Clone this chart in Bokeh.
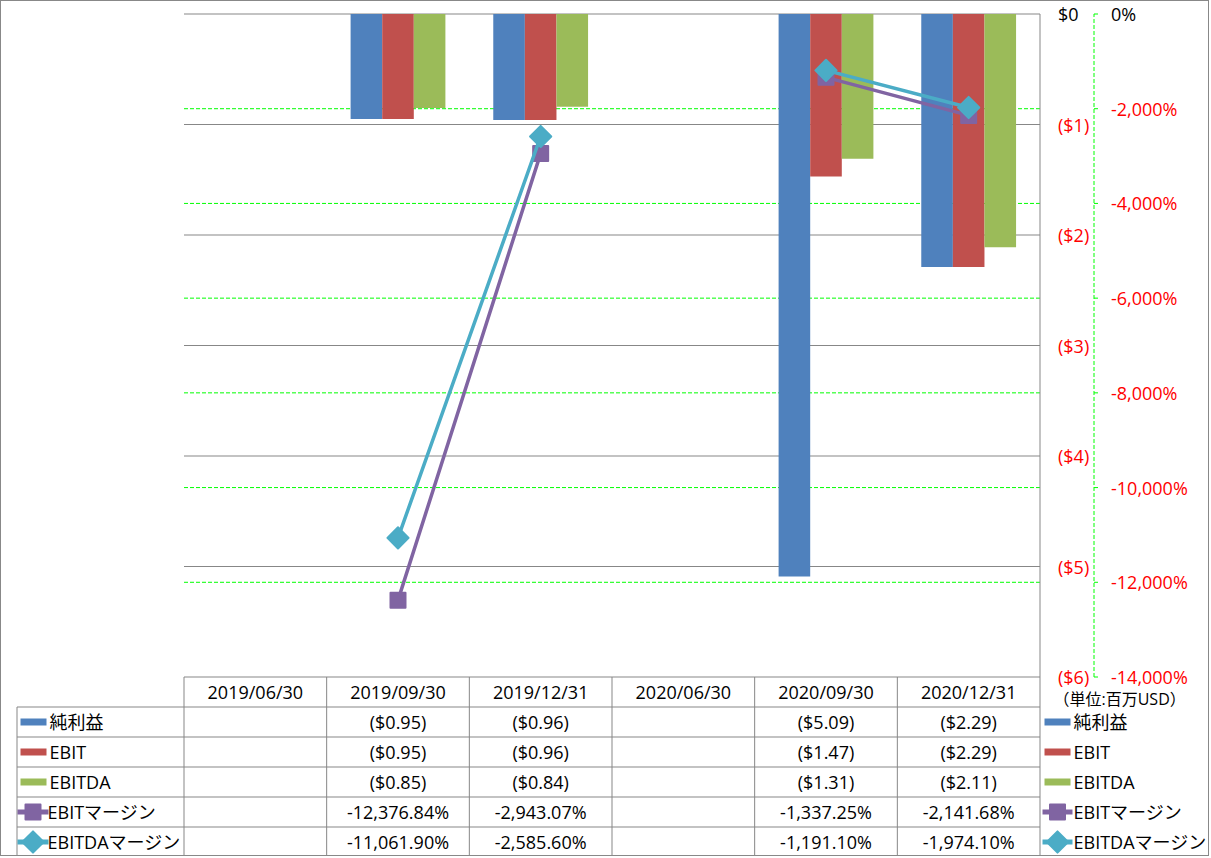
import math
from bokeh.plotting import figure
from bokeh.models import Range1d
from bokeh.core.properties import value
from bokeh.embed import file_html
from bokeh.resources import INLINE

NAN = float("nan")

# ---------------- data ----------------
categories = ["2019/06/30", "2019/09/30", "2019/12/31", "2020/06/30", "2020/09/30", "2020/12/31"]
series_names = ["純利益", "EBIT", "EBITDA", "EBITマージン", "EBITDAマージン"]
net_income = [NAN, -0.95, -0.96, NAN, -5.09, -2.29]
ebit = [NAN, -0.95, -0.96, NAN, -1.47, -2.29]
ebitda = [NAN, -0.85, -0.84, NAN, -1.31, -2.11]
ebit_margin = [NAN, -12376.84, -2943.07, NAN, -1337.25, -2141.68]
ebitda_margin = [NAN, -11061.90, -2585.60, NAN, -1191.10, -1974.10]
usd_ticks = [0, -1, -2, -3, -4, -5, -6]
pct_ticks = [0, -2000, -4000, -6000, -8000, -10000, -12000, -14000]
unit_text = "（単位:百万USD）"

# ---------------- style ----------------
FONT = "Open Sans, Noto Sans CJK JP"
FS = "18px"
C_BLUE, C_RED, C_GREEN = "#4F81BD", "#C0504D", "#9BBB59"
C_PURPLE, C_TEAL = "#8064A2", "#4BACC6"
C_GRID = "#878787"
C_LIME = "#00FF00"
C_NEG = "#FF0000"

# ---------------- layout (page px) ----------------
W, H = 1209, 856            # canvas (plus 1px css border on each side)
FR_L, FR_R, FR_T, FR_B = 15, 1210, 1, 857
CH_L, CH_R, CH_T, CH_B = 183.5, 1039.5, 13.5, 676.5
TB_L, TB_B = 16.5, 856.5
ncat = len(categories)
COL = (CH_R - CH_L) / ncat
ROW = (TB_B - CH_B) / 6
usd_min, usd_max = min(usd_ticks), max(usd_ticks)
pct_min, pct_max = min(pct_ticks), max(pct_ticks)
usd_pp = (usd_max - usd_min) / (CH_B - CH_T)
pct_pp = (pct_max - pct_min) / (CH_B - CH_T)


def xd(px):
    return (px - CH_L) / COL


x_rng = Range1d(xd(FR_L), xd(FR_R))
y_rng = Range1d(usd_max - (FR_B - CH_T) * usd_pp, usd_max + (CH_T - FR_T) * usd_pp)
pct_rng = Range1d(pct_max - (FR_B - CH_T) * pct_pp, pct_max + (CH_T - FR_T) * pct_pp)
tbl_rng = Range1d((TB_B - FR_B) / ROW, (TB_B - FR_T) / ROW)

p = figure(width=W, height=H, x_range=x_rng, y_range=y_rng,
           output_backend="svg", toolbar_location=None,
           x_axis_location=None, y_axis_location=None,
           min_border_left=FR_L - 1, min_border_right=0, min_border_top=0, min_border_bottom=0,
           outline_line_color=None, background_fill_color="white", border_fill_color="white")
p.extra_y_ranges = {"pct": pct_rng, "tbl": tbl_rng}
p.grid.visible = False
p.styles = {"border": "1px solid #888888"}

# ---------------- grid lines ----------------
g_usd = [t for t in usd_ticks if usd_min < t < usd_max]
p.segment(x0=[0] * len(g_usd), x1=[ncat] * len(g_usd), y0=g_usd, y1=g_usd,
          line_color=C_GRID, line_width=1)
g_pct = [t for t in pct_ticks if pct_min < t < pct_max]
p.segment(x0=[0] * len(g_pct), x1=[ncat] * len(g_pct), y0=g_pct, y1=g_pct,
          line_color=C_LIME, line_width=1, line_dash="4 2", y_range_name="pct")
p.segment(x0=[0], x1=[ncat], y0=[usd_max], y1=[usd_max], line_color=C_GRID, line_width=1)

# ---------------- bars ----------------
bw = 0.2215
xc = [i + 0.5 for i in range(ncat)]
bar_colors = [C_BLUE, C_RED, C_GREEN]
for k, (vals, col) in enumerate(zip([net_income, ebit, ebitda], bar_colors)):
    xs = [x + (k - 1) * bw for x in xc]
    p.vbar(x=xs, top=0, bottom=vals, width=bw, fill_color=col, line_color=None)

# ---------------- margin lines ----------------
line_specs = [(ebit_margin, C_PURPLE, 0.0), (ebitda_margin, C_TEAL, math.pi / 4)]
mk_kw = dict(marker="square", size=15, line_width=2, line_join="round")
for vals, col, ang in line_specs:
    p.line(xc, vals, y_range_name="pct", line_color=col, line_width=3.5)
    p.scatter(xc, vals, y_range_name="pct", angle=ang, fill_color=col, line_color=col, **mk_kw)

# ---------------- data table ----------------
xl = xd(TB_L)
p.segment(x0=[xl] * 6, x1=[ncat] * 6, y0=[0, 1, 2, 3, 4, 5], y1=[0, 1, 2, 3, 4, 5],
          line_color=C_GRID, line_width=1, y_range_name="tbl")
p.segment(x0=[0], x1=[ncat], y0=[6], y1=[6], line_color=C_GRID, line_width=1, y_range_name="tbl")
vx = list(range(ncat + 1))
p.segment(x0=vx, x1=vx, y0=[0] * len(vx), y1=[6] * len(vx), line_color=C_GRID, line_width=1,
          y_range_name="tbl")
p.segment(x0=[xl], x1=[xl], y0=[0], y1=[5], line_color=C_GRID, line_width=1, y_range_name="tbl")
p.segment(x0=[ncat], x1=[ncat], y0=[usd_min], y1=[usd_max], line_color=C_GRID, line_width=1)

txt_kw = dict(text_align="center", text_baseline="middle", text_font=value(FONT),
              text_font_size=FS, text_color="#000000", y_range_name="tbl")
p.text(x=xc, y=[5.5] * ncat, text=categories, **txt_kw)


def fmt_usd(v):
    return f"(${abs(v):.2f})" if v < 0 else f"${v:.2f}"


def fmt_pct(v):
    return f"{v:,.2f}%"


rows = [(net_income, fmt_usd), (ebit, fmt_usd), (ebitda, fmt_usd),
        (ebit_margin, fmt_pct), (ebitda_margin, fmt_pct)]
for r, (vals, fmt) in enumerate(rows):
    xs = [xc[i] for i, v in enumerate(vals) if not math.isnan(v)]
    ts = [fmt(v) for v in vals if not math.isnan(v)]
    p.text(x=xs, y=[4.5 - r] * len(xs), text=ts, **txt_kw)

# ---------------- right-hand value axes ----------------
ax_kw = dict(text_align="left", text_baseline="middle", text_font=value(FONT), text_font_size=FS)
usd_labels = ["$0" if t == 0 else (f"(${abs(t)})" if t < 0 else f"${t}") for t in usd_ticks]
p.text(x=[ncat] * len(usd_ticks), y=usd_ticks, text=usd_labels, x_offset=18,
       text_color=["#000000" if t >= 0 else C_NEG for t in usd_ticks], **ax_kw)

pax = xd(1093.5)
ptk = xd(1097.5)
p.segment(x0=[pax], x1=[pax], y0=[pct_min], y1=[pct_max], line_color=C_LIME, line_width=1,
          line_dash="4 2", y_range_name="pct")
p.segment(x0=[pax] * len(pct_ticks), x1=[ptk] * len(pct_ticks), y0=pct_ticks, y1=pct_ticks,
          line_color=C_LIME, line_width=1, y_range_name="pct")
pct_labels = [f"{t:,}%" for t in pct_ticks]
p.text(x=[pax] * len(pct_ticks), y=pct_ticks, text=pct_labels, x_offset=17, y_range_name="pct",
       text_color=["#000000" if t >= 0 else C_NEG for t in pct_ticks], **ax_kw)

p.text(x=[xd(1053)], y=[5.5], text=[unit_text], y_offset=7, y_range_name="tbl",
       text_align="left", text_baseline="middle", text_font=value(FONT), text_font_size="16px",
       text_color="#000000")

# ---------------- legends (left of table and right side) ----------------
for side_swatch, side_line, side_txt_bar, side_txt_line in [((20, 46), (17, 48), 49, 47),
                                                               ((1044, 1070), (1042, 1072), 1073, 1073)]:
    for r in range(3):
        cx = xd(sum(side_swatch) / 2)
        p.rect(x=[cx], y=[4.5 - r], width=side_swatch[1] - side_swatch[0], height=7,
               width_units="screen", height_units="screen", fill_color=bar_colors[r],
               line_color=None, y_range_name="tbl")
        p.text(x=[xd(side_txt_bar)], y=[4.5 - r], text=[series_names[r]], y_range_name="tbl",
               text_align="left", text_baseline="middle", text_font=value(FONT),
               text_font_size=FS, text_color="#000000")
    for j, (vals, col, ang) in enumerate(line_specs):
        yy = 4.5 - (3 + j)
        p.segment(x0=[xd(side_line[0])], x1=[xd(side_line[1])], y0=[yy], y1=[yy],
                  line_color=col, line_width=5, y_range_name="tbl")
        p.scatter(x=[xd(sum(side_line) / 2)], y=[yy], angle=ang, fill_color=col, line_color=col,
                  y_range_name="tbl", **mk_kw)
        p.text(x=[xd(side_txt_line)], y=[yy], text=[series_names[3 + j]], y_range_name="tbl",
               text_align="left", text_baseline="middle", text_font=value(FONT),
               text_font_size=FS, text_color="#000000")

open("out.html", "w").write(file_html(p, INLINE))
